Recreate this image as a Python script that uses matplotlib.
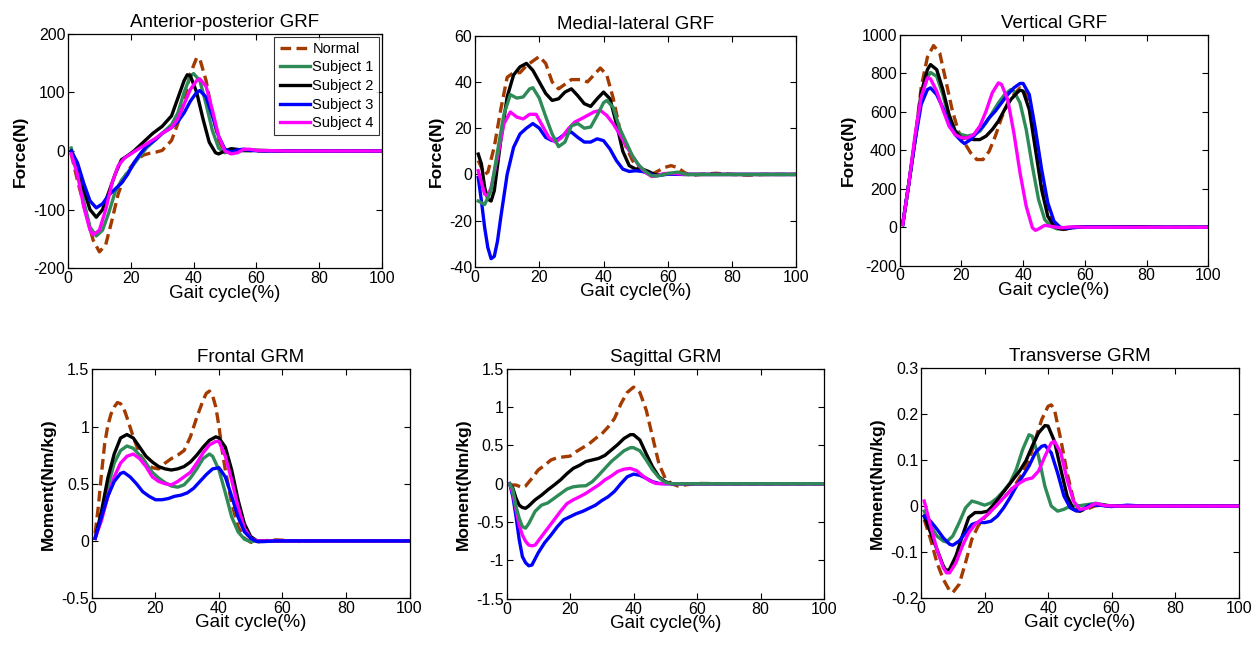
import matplotlib
matplotlib.use("Agg")
import matplotlib.pyplot as plt

plt.rcParams['font.family'] = ['Liberation Sans', 'DejaVu Sans']
plt.rcParams['axes.unicode_minus'] = False

series_names = ["Normal", "Subject 1", "Subject 2", "Subject 3", "Subject 4"]
colors = ["#A33A00", "#2E8B57", "#000000", "#0000FF", "#FF00FF"]

titles = ["Anterior-posterior GRF", "Medial-lateral GRF", "Vertical GRF",
          "Frontal GRM", "Sagittal GRM", "Transverse GRM"]
ylabels = ["Force(N)", "Force(N)", "Force(N)",
           "Moment(Nm/kg)", "Moment(Nm/kg)", "Moment(Nm/kg)"]
ylims = [(-200, 200), (-40, 60), (-200, 1000), (-0.5, 1.5), (-1.5, 1.5), (-0.2, 0.3)]
yticks = [[-200, -100, 0, 100, 200],
          [-40, -20, 0, 20, 40, 60],
          [-200, 0, 200, 400, 600, 800, 1000],
          [-0.5, 0, 0.5, 1, 1.5],
          [-1.5, -1, -0.5, 0, 0.5, 1, 1.5],
          [-0.2, -0.1, 0, 0.1, 0.2, 0.3]]
yticklabels = [["-200", "-100", "0", "100", "200"],
               ["-40", "-20", "0", "20", "40", "60"],
               ["-200", "0", "200", "400", "600", "800", "1000"],
               ["-0.5", "0", "0.5", "1", "1.5"],
               ["-1.5", "-1", "-0.5", "0", "0.5", "1", "1.5"],
               ["-0.2", "-0.1", "0", "0.1", "0.2", "0.3"]]
xticks = [0, 20, 40, 60, 80, 100]

# ---------------- Anterior-posterior GRF ----------------
ap_normal_x = [1, 3, 6, 8, 10, 12, 14, 16, 18, 20, 22, 24, 26, 28, 30, 33, 35, 37, 39, 41, 42, 44, 46, 48, 50, 55, 60, 70, 80, 90, 100]
ap_normal_y = [-5, -50, -112, -152, -172, -160, -118, -73, -44, -27, -15, -7, -4, -2, 1, 18, 47, 86, 132, 159, 157, 120, 64, 18, -2, 1, 0, 0, 0, 0, 0]
ap_s1_x = [1, 3, 5, 7, 9, 11, 13, 15, 17, 20, 22, 25, 28, 30, 33, 35, 37, 39, 40, 42, 44, 46, 48, 50, 52, 60, 70, 80, 90, 100]
ap_s1_y = [5, -30, -85, -130, -145, -135, -105, -70, -50, -30, -15, 5, 20, 30, 45, 65, 100, 128, 132, 120, 80, 35, 5, -3, 0, 1, 0, 0, 0, 0]
ap_s2_x = [1, 3, 5, 7, 9, 11, 13, 15, 17, 19, 21, 23, 25, 27, 30, 33, 35, 37, 38, 39, 41, 43, 45, 47, 48, 50, 52, 55, 60, 70, 80, 90, 100]
ap_s2_y = [0, -25, -65, -100, -113, -100, -70, -40, -15, -8, 0, 10, 20, 30, 42, 60, 90, 120, 130, 128, 100, 55, 15, -3, -5, 0, 4, 2, 1, 0, 0, 0, 0]
ap_s3_x = [1, 3, 5, 7, 9, 11, 13, 15, 17, 19, 21, 23, 25, 28, 30, 33, 35, 37, 39, 41, 42, 44, 46, 48, 50, 52, 54, 56, 58, 62, 70, 80, 90, 100]
ap_s3_y = [0, -20, -55, -85, -97, -90, -75, -65, -55, -40, -20, -5, 8, 20, 30, 40, 50, 65, 85, 100, 103, 92, 60, 25, 3, -2, 2, 3, 1, 0, 0, 0, 0, 0]
ap_s4_x = [1, 3, 5, 7, 8, 10, 12, 14, 16, 18, 20, 22, 25, 28, 30, 33, 35, 37, 39, 41, 42, 44, 46, 48, 50, 52, 54, 56, 58, 60, 70, 80, 90, 100]
ap_s4_y = [-5, -40, -95, -135, -143, -135, -100, -55, -25, -12, -5, 2, 12, 22, 30, 40, 55, 80, 105, 120, 123, 110, 70, 25, 0, -5, -3, 3, 3, 1, 0, 0, 0, 0]

# ---------------- Medial-lateral GRF ----------------
ml_normal_x = [1, 3, 4, 6, 8, 10, 12, 14, 16, 18, 20, 22, 24, 26, 28, 30, 33, 35, 37, 39, 41, 43, 45, 47, 49, 51, 53, 55, 57, 59, 61, 63, 65, 67, 70, 75, 80, 85, 90, 100]
ml_normal_y = [6, 0, 1, 12, 28, 42, 44, 44, 47, 49, 51, 48, 40, 37, 39, 41, 41, 40, 43, 46, 43, 33, 20, 12, 6, 3, 1.6, 0, 1.5, 3, 3.8, 3, 1, -0.5, 0, 0.5, 0, -0.3, 0, 0]
ml_s1_x = [1, 3, 5, 7, 9, 11, 13, 15, 17, 18, 20, 22, 24, 26, 28, 30, 32, 34, 36, 38, 40, 41, 43, 45, 47, 49, 51, 53, 55, 57, 60, 63, 66, 70, 80, 90, 100]
ml_s1_y = [-11.5, -13, -7, 10, 26, 34.5, 33, 33.5, 37, 37.5, 33, 25, 17.5, 12, 14, 21, 22, 20, 20.5, 25.5, 31, 32, 29, 20, 14, 8, 4, 1.3, -0.6, -0.6, 0.4, 1, 0, 0, 0, 0, 0]
ml_s2_x = [1, 2, 3, 4, 5, 6, 8, 10, 12, 14, 16, 18, 20, 22, 24, 26, 28, 30, 32, 34, 36, 38, 40, 42, 44, 46, 48, 50, 52, 54, 56, 58, 60, 65, 70, 80, 90, 100]
ml_s2_y = [8.8, 4.5, -5.7, -10.7, -11.5, -7, 14.6, 33.5, 43, 46.5, 48, 45, 40, 35, 32, 32.7, 35.6, 37, 34, 30.6, 29.4, 32.7, 35.6, 32.7, 22, 10, 3.8, 2.3, 2.3, 1.3, -0.1, -0.1, 0.4, 0, 0, 0, 0, 0]
ml_s3_x = [1, 2, 3, 4, 5, 6, 7, 8, 10, 12, 14, 16, 18, 20, 22, 24, 26, 28, 30, 32, 34, 36, 38, 40, 42, 44, 46, 48, 50, 52, 54, 56, 58, 60, 65, 70, 80, 90, 100]
ml_s3_y = [-1.3, -11.5, -23, -31.7, -36.4, -35.4, -28.8, -18.7, 0, 11.7, 17.5, 20, 22, 20, 16, 14.6, 15.4, 17.5, 18.3, 16, 14, 14, 15.4, 14.6, 11, 6, 2.3, 1.3, 1.6, 1.3, 0.4, -0.6, -0.3, 0.1, 0, 0, 0, 0, 0]
ml_s4_x = [1, 2, 3, 4, 5, 7, 9, 11, 13, 15, 17, 19, 21, 23, 25, 27, 29, 31, 33, 35, 37, 39, 41, 43, 45, 47, 49, 51, 53, 55, 57, 59, 62, 65, 70, 80, 90, 100]
ml_s4_y = [1.6, -3.5, -8.5, -9.3, -5.7, 7.4, 21.9, 27, 24.8, 24, 26, 26, 21, 16, 14, 16, 19.7, 22.6, 24, 25.5, 27, 27.7, 25.5, 21.9, 17.5, 12.5, 8, 3.8, 0.9, -0.9, -0.3, 0.4, 0.4, 0.1, 0, 0, 0, 0]

# ---------------- Vertical GRF ----------------
v_normal_x = [1, 3, 5, 7, 9, 11, 13, 15, 17, 19, 21, 23, 25, 27, 29, 31, 33, 35, 37, 39, 41, 43, 45, 47, 49, 51, 53, 55, 58, 70, 80, 90, 100]
v_normal_y = [14, 230, 455, 730, 885, 945, 905, 760, 612, 500, 439, 387, 352, 352, 395, 474, 569, 647, 690, 725, 700, 586, 387, 179, 40, 0, -12, -3, 2, 0, 0, 0, 0]
v_s1_x = [1, 3, 5, 7, 9, 10, 12, 14, 16, 18, 20, 22, 24, 26, 28, 30, 32, 34, 36, 37, 39, 41, 43, 45, 47, 49, 51, 53, 55, 60, 70, 80, 90, 100]
v_s1_y = [14, 230, 450, 680, 780, 805, 785, 690, 568, 500, 482, 474, 482, 500, 543, 595, 647, 690, 716, 708, 647, 508, 317, 144, 40, 5, -9, -5, 0, 3, 2, 0, 0, 0]
v_s2_x = [1, 3, 5, 7, 9, 10, 12, 14, 16, 18, 20, 22, 24, 26, 28, 30, 32, 34, 36, 38, 39, 40, 42, 44, 46, 48, 50, 52, 54, 56, 60, 70, 78, 85, 90, 100]
v_s2_y = [14, 230, 460, 700, 820, 846, 820, 716, 586, 500, 465, 465, 456, 456, 474, 508, 552, 612, 664, 699, 713, 708, 612, 404, 196, 57, 5, -9, -9, -2, 2, 3, 3, 0, 0, 0]
v_s3_x = [1, 3, 5, 7, 9, 10, 12, 14, 16, 18, 20, 21, 23, 25, 27, 29, 31, 33, 35, 37, 39, 40, 42, 44, 46, 48, 50, 52, 54, 56, 60, 70, 80, 90, 100]
v_s3_y = [14, 230, 450, 640, 716, 725, 690, 621, 543, 482, 448, 435, 456, 491, 526, 569, 604, 647, 690, 725, 748, 748, 690, 508, 300, 127, 31, 0, -5, -2, 1, 1, 0, 0, 0]
v_s4_x = [1, 3, 5, 7, 9, 10, 12, 14, 16, 18, 20, 22, 24, 26, 28, 30, 32, 33, 35, 37, 39, 41, 43, 44, 45, 47, 49, 52, 56, 60, 70, 80, 90, 100]
v_s4_y = [14, 230, 480, 680, 777, 772, 708, 612, 526, 482, 465, 465, 482, 526, 604, 699, 751, 743, 664, 491, 283, 109, -3, -16, -9, 10, 5, -3, 2, 0, 0, 0, 0, 0]

# ---------------- Frontal GRM ----------------
f_normal_x = [1, 2, 3, 4, 5, 6, 7, 8, 9, 10, 11, 13, 15, 17, 19, 21, 23, 25, 27, 29, 31, 33, 35, 36, 37, 38, 39, 40, 41, 42, 44, 46, 48, 50, 52, 55, 58, 62, 66, 70, 80, 90, 100]
f_normal_y = [0.067, 0.3, 0.59, 0.85, 1.01, 1.11, 1.17, 1.21, 1.2, 1.16, 1.08, 0.91, 0.76, 0.68, 0.64, 0.63, 0.68, 0.72, 0.75, 0.79, 0.91, 1.08, 1.23, 1.29, 1.31, 1.27, 1.17, 1.0, 0.79, 0.62, 0.33, 0.125, 0.023, -0.012, -0.009, 0.003, 0.009, 0.003, -0.006, 0, 0, 0, 0]
f_s1_x = [1, 3, 5, 7, 9, 11, 13, 15, 17, 19, 21, 23, 25, 27, 29, 31, 33, 35, 37, 38, 40, 42, 44, 46, 48, 50, 52, 60, 70, 80, 90, 100]
f_s1_y = [0.023, 0.21, 0.47, 0.68, 0.79, 0.83, 0.81, 0.75, 0.68, 0.6, 0.55, 0.51, 0.48, 0.47, 0.49, 0.55, 0.63, 0.72, 0.76, 0.74, 0.62, 0.42, 0.21, 0.08, 0.015, -0.006, 0, 0, 0, 0, 0, 0]
f_s2_x = [1, 3, 5, 7, 9, 11, 13, 15, 17, 19, 21, 23, 25, 27, 29, 31, 33, 35, 37, 39, 40, 42, 44, 46, 48, 50, 52, 55, 60, 70, 80, 90, 100]
f_s2_y = [0.023, 0.26, 0.55, 0.76, 0.9, 0.93, 0.9, 0.82, 0.74, 0.69, 0.65, 0.63, 0.62, 0.63, 0.65, 0.69, 0.75, 0.82, 0.88, 0.91, 0.9, 0.82, 0.62, 0.36, 0.15, 0.038, 0, 0, 0, 0, 0, 0, 0]
f_s3_x = [1, 3, 5, 7, 9, 10, 12, 14, 16, 18, 20, 22, 24, 26, 28, 30, 32, 34, 36, 38, 40, 42, 44, 46, 48, 50, 52, 54, 58, 60, 70, 80, 90, 100]
f_s3_y = [0.023, 0.21, 0.39, 0.52, 0.59, 0.6, 0.56, 0.5, 0.43, 0.39, 0.36, 0.36, 0.37, 0.39, 0.4, 0.42, 0.46, 0.52, 0.58, 0.63, 0.64, 0.56, 0.39, 0.21, 0.08, 0.023, -0.006, -0.006, 0, 0, 0, 0, 0, 0]
f_s4_x = [1, 3, 5, 7, 9, 11, 13, 15, 17, 19, 21, 23, 25, 27, 29, 31, 33, 35, 37, 39, 40, 42, 44, 46, 48, 50, 52, 55, 60, 70, 80, 90, 100]
f_s4_y = [0.023, 0.18, 0.39, 0.56, 0.68, 0.74, 0.76, 0.72, 0.65, 0.56, 0.52, 0.5, 0.49, 0.52, 0.56, 0.6, 0.68, 0.77, 0.84, 0.87, 0.87, 0.74, 0.53, 0.3, 0.11, 0.023, 0, 0, 0, 0, 0, 0, 0]

# ---------------- Sagittal GRM ----------------
s_normal_x = [1, 3, 5, 6, 8, 10, 12, 14, 16, 18, 20, 22, 24, 26, 28, 30, 32, 34, 36, 38, 40, 42, 44, 46, 48, 50, 52, 54, 56, 60, 70, 80, 90, 100]
s_normal_y = [-0.017, -0.017, -0.05, -0.03, 0.07, 0.18, 0.24, 0.31, 0.34, 0.35, 0.36, 0.42, 0.47, 0.52, 0.59, 0.65, 0.74, 0.85, 1.04, 1.19, 1.26, 1.19, 0.96, 0.61, 0.26, 0.07, 0, -0.03, -0.017, 0.004, 0, 0, 0, 0]
s_s1_x = [1, 2, 3, 4, 5, 6, 7, 9, 11, 13, 15, 17, 19, 21, 23, 25, 27, 29, 31, 33, 35, 37, 39, 40, 42, 44, 46, 48, 50, 52, 55, 60, 70, 80, 90, 100]
s_s1_y = [0, -0.08, -0.3, -0.45, -0.56, -0.58, -0.52, -0.36, -0.28, -0.25, -0.19, -0.13, -0.07, -0.04, -0.03, -0.026, 0.026, 0.11, 0.2, 0.29, 0.36, 0.43, 0.47, 0.47, 0.43, 0.31, 0.18, 0.08, 0.017, 0, 0, 0, 0, 0, 0, 0]
s_s2_x = [1, 2, 3, 4, 5, 6, 7, 9, 11, 13, 15, 17, 19, 21, 23, 25, 27, 29, 31, 33, 35, 37, 39, 40, 42, 44, 46, 48, 50, 52, 55, 60, 70, 80, 90, 100]
s_s2_y = [0, -0.06, -0.19, -0.28, -0.31, -0.32, -0.29, -0.21, -0.15, -0.08, -0.017, 0.05, 0.13, 0.2, 0.24, 0.29, 0.31, 0.33, 0.37, 0.44, 0.51, 0.59, 0.64, 0.64, 0.57, 0.39, 0.22, 0.09, 0.026, 0, 0, 0, 0, 0, 0, 0]
s_s3_x = [1, 2, 3, 4, 5, 6, 7, 8, 10, 12, 14, 16, 18, 20, 22, 24, 26, 28, 30, 32, 34, 36, 38, 40, 42, 44, 46, 48, 50, 55, 60, 70, 80, 90, 100]
s_s3_y = [0, -0.17, -0.43, -0.73, -0.95, -1.03, -1.07, -1.06, -0.9, -0.77, -0.67, -0.56, -0.47, -0.43, -0.39, -0.36, -0.32, -0.28, -0.22, -0.17, -0.1, 0, 0.09, 0.125, 0.11, 0.07, 0.026, 0.004, 0, 0, 0, 0, 0, 0, 0]
s_s4_x = [1, 2, 3, 4, 5, 6, 7, 8, 9, 11, 13, 15, 17, 19, 21, 23, 25, 27, 29, 31, 33, 35, 37, 39, 41, 43, 45, 47, 49, 55, 60, 70, 80, 90, 100]
s_s4_y = [0, -0.125, -0.34, -0.54, -0.67, -0.75, -0.8, -0.81, -0.8, -0.69, -0.58, -0.47, -0.36, -0.26, -0.21, -0.17, -0.125, -0.07, -0.017, 0.05, 0.1, 0.16, 0.19, 0.2, 0.17, 0.1, 0.04, 0.004, 0, 0, 0, 0, 0, 0, 0]

# ---------------- Transverse GRM ----------------
t_normal_x = [1, 3, 5, 7, 9, 10, 12, 14, 16, 18, 20, 22, 24, 26, 28, 30, 32, 34, 36, 38, 40, 41, 42, 44, 46, 48, 50, 52, 55, 60, 70, 80, 90, 100]
t_normal_y = [-0.029, -0.072, -0.123, -0.159, -0.184, -0.188, -0.17, -0.123, -0.072, -0.043, -0.025, -0.011, 0.004, 0.018, 0.033, 0.05, 0.072, 0.1, 0.145, 0.188, 0.217, 0.22, 0.21, 0.145, 0.072, 0.014, -0.011, -0.007, 0.001, 0, 0, 0, 0, 0]
t_s1_x = [1, 3, 5, 7, 8, 10, 12, 14, 16, 18, 20, 22, 24, 26, 28, 30, 32, 34, 35, 37, 39, 41, 43, 45, 47, 50, 55, 60, 70, 80, 90, 100]
t_s1_y = [-0.011, -0.043, -0.065, -0.076, -0.078, -0.065, -0.036, -0.004, 0.011, 0.007, 0.002, 0.007, 0.018, 0.033, 0.05, 0.08, 0.123, 0.155, 0.152, 0.108, 0.043, 0, -0.011, -0.007, 0, 0.001, 0.006, 0, 0, 0, 0, 0]
t_s2_x = [1, 3, 5, 7, 8, 9, 11, 13, 15, 17, 19, 21, 23, 25, 27, 29, 31, 33, 35, 37, 39, 40, 42, 44, 46, 48, 50, 52, 55, 60, 70, 80, 90, 100]
t_s2_y = [-0.022, -0.058, -0.094, -0.13, -0.141, -0.137, -0.108, -0.065, -0.025, -0.014, -0.014, -0.011, 0.004, 0.022, 0.04, 0.058, 0.076, 0.098, 0.13, 0.159, 0.175, 0.174, 0.141, 0.08, 0.022, -0.007, -0.011, -0.004, 0.004, 0, 0, 0, 0, 0]
t_s3_x = [1, 3, 5, 7, 9, 10, 12, 14, 16, 18, 20, 22, 24, 26, 28, 30, 32, 34, 36, 38, 39, 41, 43, 45, 47, 49, 51, 53, 56, 60, 65, 70, 80, 90, 100]
t_s3_y = [-0.022, -0.033, -0.05, -0.069, -0.083, -0.085, -0.076, -0.058, -0.04, -0.035, -0.036, -0.033, -0.022, -0.004, 0.018, 0.043, 0.065, 0.087, 0.116, 0.13, 0.132, 0.116, 0.072, 0.022, -0.004, -0.011, -0.007, 0.002, 0.002, -0.001, 0.002, 0, 0, 0, 0]
t_s4_x = [1, 3, 5, 7, 8, 9, 11, 13, 15, 17, 19, 21, 23, 25, 27, 29, 31, 33, 35, 37, 39, 41, 42, 44, 46, 48, 50, 52, 55, 58, 62, 70, 80, 90, 100]
t_s4_y = [0.011, -0.043, -0.094, -0.134, -0.145, -0.145, -0.123, -0.087, -0.058, -0.04, -0.029, -0.018, -0.004, 0.011, 0.025, 0.04, 0.05, 0.058, 0.061, 0.076, 0.108, 0.137, 0.141, 0.116, 0.058, 0.011, -0.007, -0.005, 0.006, 0.001, 0, 0, 0, 0, 0]

panels = [
    [(ap_normal_x, ap_normal_y), (ap_s1_x, ap_s1_y), (ap_s2_x, ap_s2_y), (ap_s3_x, ap_s3_y), (ap_s4_x, ap_s4_y)],
    [(ml_normal_x, ml_normal_y), (ml_s1_x, ml_s1_y), (ml_s2_x, ml_s2_y), (ml_s3_x, ml_s3_y), (ml_s4_x, ml_s4_y)],
    [(v_normal_x, v_normal_y), (v_s1_x, v_s1_y), (v_s2_x, v_s2_y), (v_s3_x, v_s3_y), (v_s4_x, v_s4_y)],
    [(f_normal_x, f_normal_y), (f_s1_x, f_s1_y), (f_s2_x, f_s2_y), (f_s3_x, f_s3_y), (f_s4_x, f_s4_y)],
    [(s_normal_x, s_normal_y), (s_s1_x, s_s1_y), (s_s2_x, s_s2_y), (s_s3_x, s_s3_y), (s_s4_x, s_s4_y)],
    [(t_normal_x, t_normal_y), (t_s1_x, t_s1_y), (t_s2_x, t_s2_y), (t_s3_x, t_s3_y), (t_s4_x, t_s4_y)],
]
# drawing order per panel (index into series)
orders = [[0, 1, 2, 3, 4], [0, 2, 3, 4, 1], [0, 1, 2, 3, 4],
          [0, 1, 2, 4, 3], [0, 2, 3, 4, 1], [0, 1, 2, 3, 4]]

axes_rects = [
    [0.054, 0.586, 0.249, 0.362],
    [0.377, 0.588, 0.255, 0.357],
    [0.714, 0.590, 0.245, 0.356],
    [0.073, 0.077, 0.252, 0.353],
    [0.402, 0.076, 0.252, 0.355],
    [0.731, 0.077, 0.252, 0.355],
]

fig = plt.figure(figsize=(12.6, 6.48), dpi=100)
for i in range(6):
    ax = fig.add_axes(axes_rects[i])
    handles = {}
    for k in orders[i]:
        xs, ys = panels[i][k]
        if k == 0:
            ln, = ax.plot(xs, ys, color=colors[k], lw=2.4, ls=(0, (3.2, 1.6)), label=series_names[k])
        else:
            ln, = ax.plot(xs, ys, color=colors[k], lw=2.4, label=series_names[k])
        handles[k] = ln
    ax.set_xlim(0, 100)
    ax.set_ylim(*ylims[i])
    ax.set_xticks(xticks)
    ax.set_xticklabels([str(t) for t in xticks])
    ax.set_yticks(yticks[i])
    ax.set_yticklabels(yticklabels[i])
    ax.tick_params(direction='in', top=True, right=True, labelsize=11.5, length=4, width=0.8, pad=2)
    for sp in ax.spines.values():
        sp.set_linewidth(0.9)
    ax.set_title(titles[i], fontsize=13.5, pad=5)
    ax.set_xlabel("Gait cycle(%)", fontsize=13.5, labelpad=-1)
    ax.set_ylabel(ylabels[i], fontsize=12.5, fontweight='bold', labelpad=4)
    if i == 0:
        leg = ax.legend([handles[k] for k in range(5)], series_names, loc='upper right',
                        fontsize=10.5, frameon=True, fancybox=False, edgecolor='black',
                        handlelength=2.1, borderpad=0.35, labelspacing=0.32,
                        handletextpad=0.15, borderaxespad=0.2)
        leg.get_frame().set_linewidth(0.8)

fig.savefig("out.png", dpi=100)
